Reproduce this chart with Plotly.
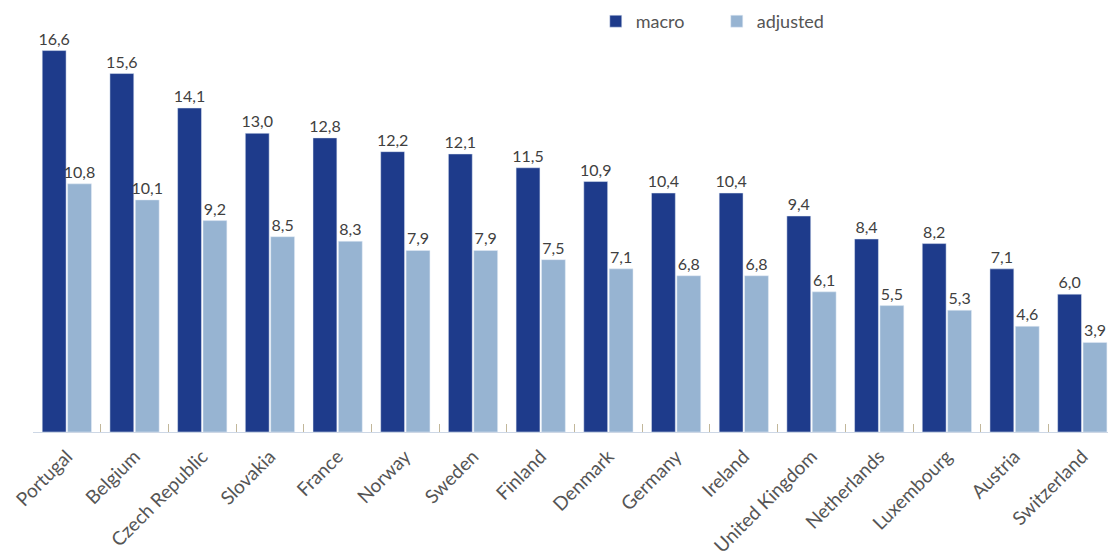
import plotly.graph_objects as go

countries = ["Portugal", "Belgium", "Czech Republic", "Slovakia", "France", "Norway",
             "Sweden", "Finland", "Denmark", "Germany", "Ireland", "United Kingdom",
             "Netherlands", "Luxembourg", "Austria", "Switzerland"]
macro = [16.6, 15.6, 14.1, 13.0, 12.8, 12.2, 12.1, 11.5, 10.9, 10.4, 10.4, 9.4, 8.4, 8.2, 7.1, 6.0]
adjusted = [10.8, 10.1, 9.2, 8.5, 8.3, 7.9, 7.9, 7.5, 7.1, 6.8, 6.8, 6.1, 5.5, 5.3, 4.6, 3.9]

MACRO_COLOR = "#1e3b8b"
ADJ_COLOR = "#97b4d2"
LABEL_FONT = dict(family="Lato, 'Open Sans', sans-serif", size=16, color="#404040")

fig = go.Figure()
fig.add_trace(go.Bar(
    name="macro", x=countries, y=macro, marker_color=MACRO_COLOR,
    texttemplate="%{y:.1f}", textposition="outside", textfont=LABEL_FONT,
    constraintext="none", cliponaxis=False,
))
fig.add_trace(go.Bar(
    name="adjusted", x=countries, y=adjusted, marker_color=ADJ_COLOR,
    texttemplate="%{y:.1f}", textposition="outside", textfont=LABEL_FONT,
    constraintext="none", cliponaxis=False,
))

fig.update_layout(
    width=1108, height=560,
    margin=dict(l=33, r=0, t=40, b=128),
    paper_bgcolor="white", plot_bgcolor="white",
    separators=",.",
    barmode="group", bargap=0.25, bargroupgap=0.06,
    font=dict(family="Lato, 'Open Sans', sans-serif", color="#555555"),
    showlegend=True,
    legend=dict(
        orientation="h", x=0.5235, xanchor="left", y=1.0, yanchor="bottom",
        font=dict(size=18, color="#555555"),
        entrywidth=76, entrywidthmode="pixels",
        bgcolor="rgba(0,0,0,0)",
    ),
    xaxis=dict(
        type="category", range=[-0.5, 15.38],
        showline=True, linecolor="#cdd7e5", linewidth=1,
        ticks="inside", tickson="boundaries", ticklen=8, tickcolor="#c2b79a",
        tickangle=-45, tickfont=dict(size=19, color="#555555"),
        ticklabelstandoff=5,
        showgrid=False, automargin=False,
    ),
    yaxis=dict(
        range=[0, 17.06], visible=False, showgrid=False, zeroline=False,
    ),
)

fig.write_html("out.html")
